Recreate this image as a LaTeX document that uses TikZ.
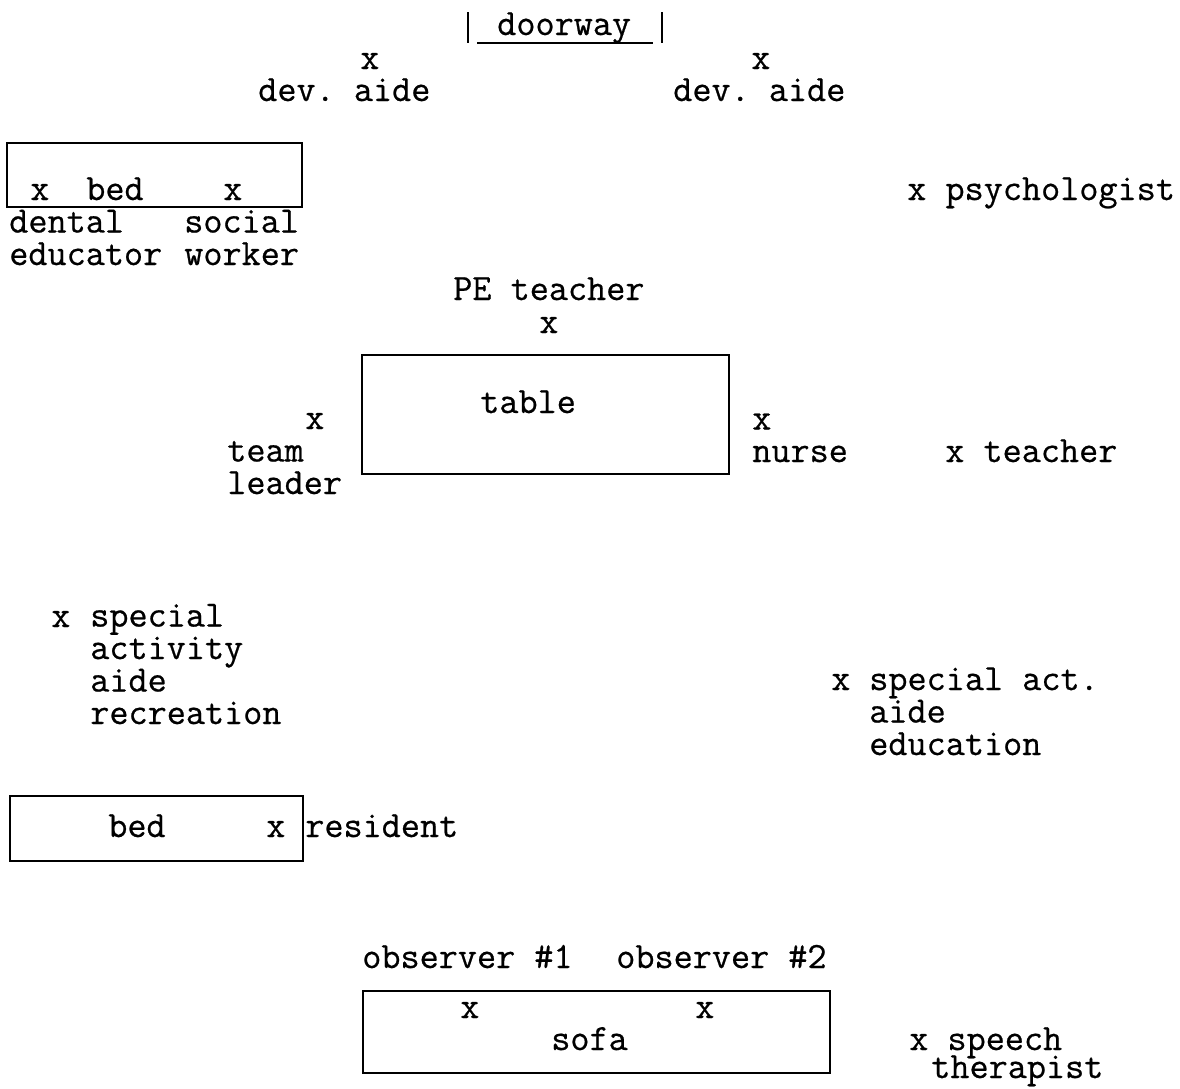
\documentclass[tikz,border=0pt]{standalone}
\usepackage{fontspec}
\setmonofont{Latin Modern Mono}[FakeBold=0.6]
\setlength{\lineskiplimit}{-20pt}
\frenchspacing
\begin{document}
\begin{tikzpicture}[x=0.025cm, y=-0.025cm,
  lbl/.style={anchor=base west, inner sep=0pt, align=left,
              font=\ttfamily\fontsize{26.4}{23.1}\selectfont},
  furn/.style={draw, line width=1.5pt}
]
\useasboundingbox (0,0) rectangle (1180,1088);
% doorway
\node[lbl] (door) at (497,35) {doorway};
\draw[furn] (468,12) -- (468,43);
\draw[furn] (662,12) -- (662,43);
\draw[line width=1.2pt] (477,43) -- (653,43);
\node[lbl] (devxa) at (360,69) {x};
\node[lbl] (devaa) at (258,101) {dev. aide};
\node[lbl] (devxb) at (751,69) {x};
\node[lbl] (devab) at (673,101) {dev. aide};
% upper bed
\draw[furn] (7,143) rectangle (302,207);
\node[lbl] (dentx) at (30,200) {x};
\node[lbl] (bedA) at (86,200) {bed};
\node[lbl] (socx) at (223,200) {x};
\node[lbl] (dent) at (9,265) {dental\\educator};
\node[lbl] (soc) at (184,265) {social\\worker};
\node[lbl] (psych) at (907,200) {x psychologist};
% table
\node[lbl] (pe) at (453,300) {PE teacher};
\node[lbl] (pex) at (539,333) {x};
\draw[furn] (362,355) rectangle (729,474);
\node[lbl] (tab) at (480,413) {table};
\node[lbl] (teamx) at (305,429) {x};
\node[lbl] (team) at (227,494) {team\\leader};
\node[lbl] (nurse) at (752,462) {x\\nurse};
\node[lbl] (teach) at (945,462) {x teacher};
% special activity aides
\node[lbl] (recx) at (51,627) {x};
\node[lbl] (rec) at (90,724) {special\\activity\\aide\\recreation};
\node[lbl] (edux) at (831,690) {x};
\node[lbl] (edu) at (869,755) {special act.\\aide\\education};
% lower bed
\draw[furn] (10,796) rectangle (303,861);
\node[lbl] (bedB) at (108,837) {bed};
\node[lbl] (resx) at (266,837) {x};
\node[lbl] (res) at (305,837) {resident};
% sofa
\node[lbl] (obsa) at (362,968) {observer \#1};
\node[lbl] (obsb) at (616,968) {observer \#2};
\draw[furn] (363,991) rectangle (830,1073);
\node[lbl] (obsxa) at (460,1018) {x};
\node[lbl] (obsxb) at (695,1018) {x};
\node[lbl] (sofa) at (551,1050) {sofa};
\node[lbl] (speech) at (909,1050) {x speech};
\node[lbl] (ther) at (931,1078) {therapist};
\end{tikzpicture}
\end{document}
